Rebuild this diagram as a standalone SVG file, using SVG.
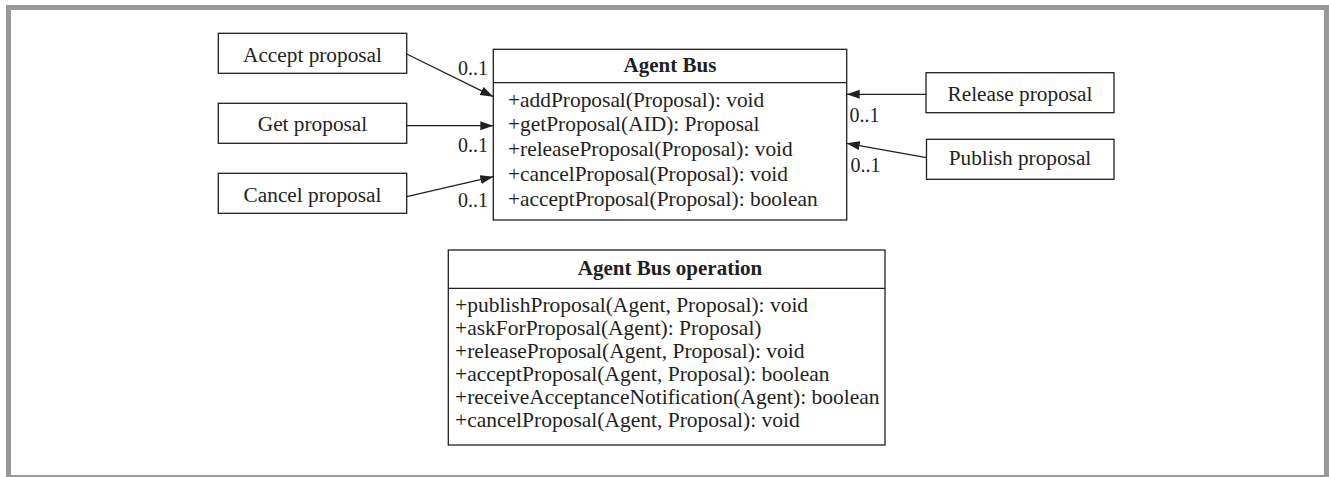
<svg xmlns="http://www.w3.org/2000/svg" width="1329" height="477" viewBox="0 0 1329 477">
<style>
  .box { fill: #ffffff; stroke: #231f20; stroke-width: 1.3; }
  .sep { stroke: #231f20; stroke-width: 1.3; }
  .lbl { font-family: "Liberation Serif", "Times New Roman", serif; font-size: 21.3px; fill: #231f20; text-anchor: middle; }
  .title { font-family: "Liberation Serif", "Times New Roman", serif; font-size: 21px; font-weight: bold; fill: #231f20; text-anchor: middle; }
  .m1 { font-family: "Liberation Serif", "Times New Roman", serif; font-size: 21.4px; fill: #231f20; }
  .m2 { font-family: "Liberation Serif", "Times New Roman", serif; font-size: 21.5px; fill: #231f20; }
  .mult { font-family: "Liberation Serif", "Times New Roman", serif; font-size: 20px; fill: #231f20; }
  .conn { stroke: #231f20; stroke-width: 1.3; fill: none; marker-end: url(#arrow); }
</style>
<defs>
  <marker id="arrow" markerUnits="userSpaceOnUse" markerWidth="14" markerHeight="10" refX="13" refY="4.5" orient="auto">
    <path d="M0,0 L13,4.5 L0,9 z" fill="#231f20"/>
  </marker>
</defs>
<rect x="0" y="0" width="1329" height="477" fill="#ffffff"/>
<rect x="8.5" y="7.5" width="1318" height="470" fill="none" stroke="#999999" stroke-width="5"/>

<g id="connectors">
  <line class="conn" x1="406.7" y1="54" x2="493.3" y2="96.7"/>
  <line class="conn" x1="406.7" y1="125.7" x2="493.3" y2="125.7"/>
  <line class="conn" x1="406.7" y1="196.7" x2="493.3" y2="176.7"/>
  <line class="conn" x1="926" y1="94.3" x2="846.7" y2="94.3"/>
  <line class="conn" x1="926.5" y1="157.7" x2="846.7" y2="143.3"/>
  <text class="mult" x="458" y="75">0..1</text>
  <text class="mult" x="458" y="151.7">0..1</text>
  <text class="mult" x="458" y="206.7">0..1</text>
  <text class="mult" x="849.5" y="121.7">0..1</text>
  <text class="mult" x="850.5" y="171.7">0..1</text>
</g>

<g id="accept-proposal">
  <rect class="box" x="218.3" y="33.3" width="188.4" height="40"/>
  <text class="lbl" x="312.5" y="61.5">Accept proposal</text>
</g>
<g id="get-proposal">
  <rect class="box" x="218.3" y="103.3" width="188.4" height="40"/>
  <text class="lbl" x="312.5" y="130.5">Get proposal</text>
</g>
<g id="cancel-proposal">
  <rect class="box" x="218.3" y="173.3" width="188.4" height="40"/>
  <text class="lbl" x="312.5" y="201.5">Cancel proposal</text>
</g>
<g id="release-proposal">
  <rect class="box" x="926" y="72.7" width="188" height="40"/>
  <text class="lbl" x="1020" y="100.5">Release proposal</text>
</g>
<g id="publish-proposal">
  <rect class="box" x="926.5" y="139.3" width="187.5" height="40"/>
  <text class="lbl" x="1020" y="164.5">Publish proposal</text>
</g>

<g id="agent-bus">
  <rect class="box" x="493.3" y="49.3" width="353.4" height="170.7"/>
  <line class="sep" x1="493.3" y1="82.7" x2="846.7" y2="82.7"/>
  <text class="title" x="670" y="71.7">Agent Bus</text>
  <text class="m1" x="508" y="106.7">+addProposal(Proposal): void</text>
  <text class="m1" x="508" y="131.4">+getProposal(AID): Proposal</text>
  <text class="m1" x="508" y="156.1">+releaseProposal(Proposal): void</text>
  <text class="m1" x="508" y="180.8">+cancelProposal(Proposal): void</text>
  <text class="m1" x="508" y="205.5">+acceptProposal(Proposal): boolean</text>
</g>

<g id="agent-bus-operation">
  <rect class="box" x="448.3" y="250" width="436.7" height="195"/>
  <line class="sep" x1="448.3" y1="288.3" x2="885" y2="288.3"/>
  <text class="title" x="670" y="275">Agent Bus operation</text>
  <text class="m2" x="455" y="311.7">+publishProposal(Agent, Proposal): void</text>
  <text class="m2" x="455" y="334.8">+askForProposal(Agent): Proposal)</text>
  <text class="m2" x="455" y="357.9">+releaseProposal(Agent, Proposal): void</text>
  <text class="m2" x="455" y="381">+acceptProposal(Agent, Proposal): boolean</text>
  <text class="m2" x="455" y="404.1">+receiveAcceptanceNotification(Agent): boolean</text>
  <text class="m2" x="455" y="427.2">+cancelProposal(Agent, Proposal): void</text>
</g>
</svg>
